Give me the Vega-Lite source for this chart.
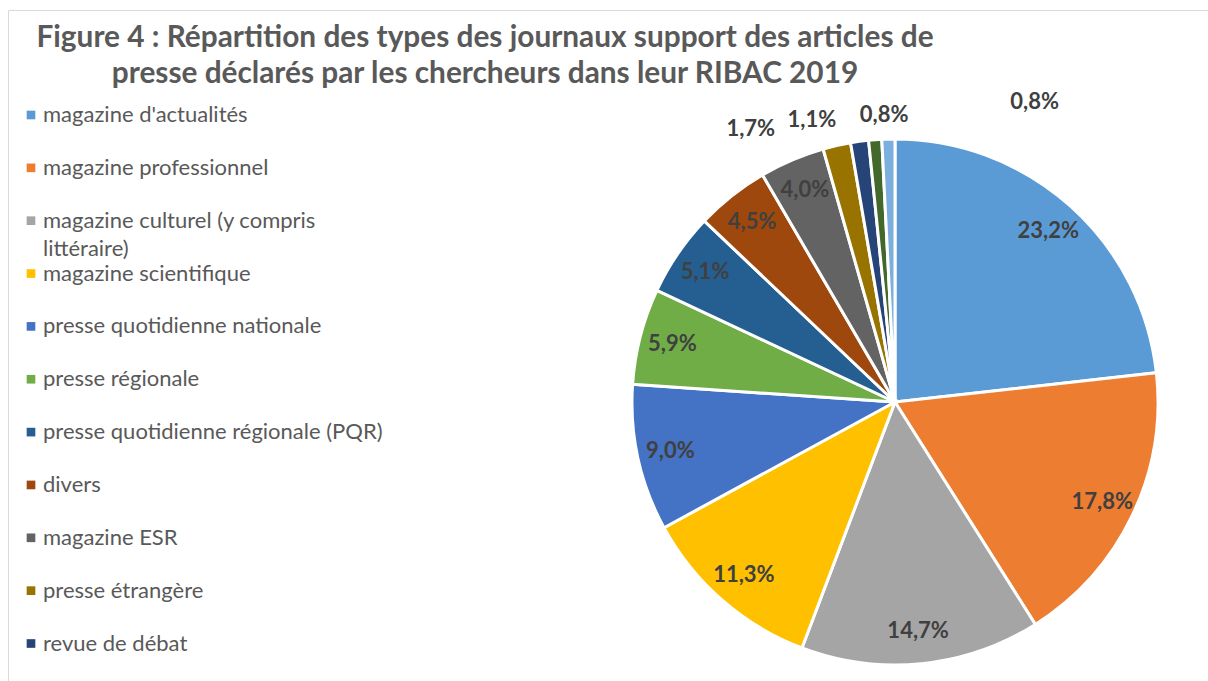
{
  "$schema": "https://vega.github.io/schema/vega-lite/v6.json",
  "width": 1774,
  "height": 784,
  "autosize": "none",
  "padding": {"left": 8, "top": 10, "right": -574, "bottom": -113},
  "background": "white",
  "view": {"stroke": "#D9D9D9", "strokeWidth": 1},
  "title": {
    "text": ["Figure 4 : Répartition des types des journaux support des articles de", "presse déclarés par les chercheurs dans leur RIBAC 2019"],
    "anchor": "middle",
    "frame": "group",
    "dx": -410,
    "dy": 82.5,
    "font": "Lato",
    "fontSize": 29.8,
    "fontWeight": "bold",
    "color": "#595959",
    "lineHeight": 36
  },
  "data": {
    "values": [
      {"type": "magazine d'actualités", "pct": 0.232},
      {"type": "magazine professionnel", "pct": 0.178},
      {"type": "magazine culturel (y compris littéraire)", "pct": 0.147},
      {"type": "magazine scientifique", "pct": 0.113},
      {"type": "presse quotidienne nationale", "pct": 0.090},
      {"type": "presse régionale", "pct": 0.059},
      {"type": "presse quotidienne régionale (PQR)", "pct": 0.051},
      {"type": "divers", "pct": 0.045},
      {"type": "magazine ESR", "pct": 0.040},
      {"type": "presse étrangère", "pct": 0.017},
      {"type": "revue de débat", "pct": 0.011},
      {"type": "autre", "pct": 0.008},
      {"type": "non précisé", "pct": 0.008}
    ]
  },
  "encoding": {
    "theta": {"field": "pct", "type": "quantitative", "stack": true},
    "order": {"field": "pct", "type": "quantitative", "sort": "descending"}
  },
  "layer": [
    {
      "mark": {"type": "arc", "outerRadius": 263, "stroke": "white", "strokeWidth": 3},
      "encoding": {
        "color": {
          "field": "type",
          "type": "nominal",
          "scale": {
            "domain": ["magazine d'actualités", "magazine professionnel", "magazine culturel (y compris littéraire)", "magazine scientifique", "presse quotidienne nationale", "presse régionale", "presse quotidienne régionale (PQR)", "divers", "magazine ESR", "presse étrangère", "revue de débat", "autre", "non précisé"],
            "range": ["#5B9BD5", "#ED7D31", "#A5A5A5", "#FFC000", "#4472C4", "#70AD47", "#255E91", "#9E480E", "#636363", "#997300", "#264478", "#43682B", "#7CAFDD"]
          },
          "legend": {
            "orient": "none",
            "legendX": 12,
            "legendY": 94,
            "title": null,
            "values": ["magazine d'actualités", "magazine professionnel", "magazine culturel (y compris littéraire)", "magazine scientifique", "presse quotidienne nationale", "presse régionale", "presse quotidienne régionale (PQR)", "divers", "magazine ESR", "presse étrangère", "revue de débat"],
            "symbolType": "square",
            "symbolSize": 75,
            "symbolStrokeWidth": 0,
            "labelFont": "Lato",
            "labelFontSize": 22,
            "labelColor": "#595959",
            "labelLimit": 0,
            "labelOffset": 1,
            "rowPadding": 2.85,
            "labelExpr": "datum.label == 'magazine culturel (y compris littéraire)' ? ['magazine culturel (y compris', 'littéraire)'] : [datum.label, '']",
            "encode": {
              "labels": {"update": {"dy": {"value": 14}, "lineHeight": {"value": 28}}}
            }
          }
        }
      }
    },
    {
      "mark": {"type": "text", "radius": 230, "font": "Lato", "fontWeight": "bold", "fontSize": 22, "color": "#404040"},
      "encoding": {
        "detail": {"field": "type", "type": "nominal"},
        "text": {"condition": {"test": "datum.pct < 0.02", "value": ""}, "field": "pct", "type": "quantitative", "format": ".1%"}
      }
    },
    {
      "mark": {"type": "text", "radius": 290, "dx": -80, "dy": 10, "font": "Lato", "fontWeight": "bold", "fontSize": 22, "color": "#404040"},
      "encoding": {
        "detail": {"field": "type", "type": "nominal"},
        "text": {"condition": {"test": "datum.type == 'presse étrangère'", "field": "pct", "type": "quantitative", "format": ".1%"}, "value": ""}
      }
    },
    {
      "mark": {"type": "text", "radius": 290, "dx": -44, "dy": 5, "font": "Lato", "fontWeight": "bold", "fontSize": 22, "color": "#404040"},
      "encoding": {
        "detail": {"field": "type", "type": "nominal"},
        "text": {"condition": {"test": "datum.type == 'revue de débat'", "field": "pct", "type": "quantitative", "format": ".1%"}, "value": ""}
      }
    },
    {
      "mark": {"type": "text", "radius": 290, "dx": 11, "dy": 2, "font": "Lato", "fontWeight": "bold", "fontSize": 22, "color": "#404040"},
      "encoding": {
        "detail": {"field": "type", "type": "nominal"},
        "text": {"condition": {"test": "datum.type == 'autre'", "field": "pct", "type": "quantitative", "format": ".1%"}, "value": ""}
      }
    },
    {
      "mark": {"type": "text", "radius": 290, "dx": 147, "dy": -10, "font": "Lato", "fontWeight": "bold", "fontSize": 22, "color": "#404040"},
      "encoding": {
        "detail": {"field": "type", "type": "nominal"},
        "text": {"condition": {"test": "datum.type == 'non précisé'", "field": "pct", "type": "quantitative", "format": ".1%"}, "value": ""}
      }
    }
  ],
  "config": {
    "view": {"stroke": "#D9D9D9", "strokeWidth": 1},
    "style": {"guide-label": {"lineHeight": 28}},
    "locale": {"number": {"decimal": ",", "thousands": " ", "grouping": [3], "currency": ["", " €"]}}
  }
}
